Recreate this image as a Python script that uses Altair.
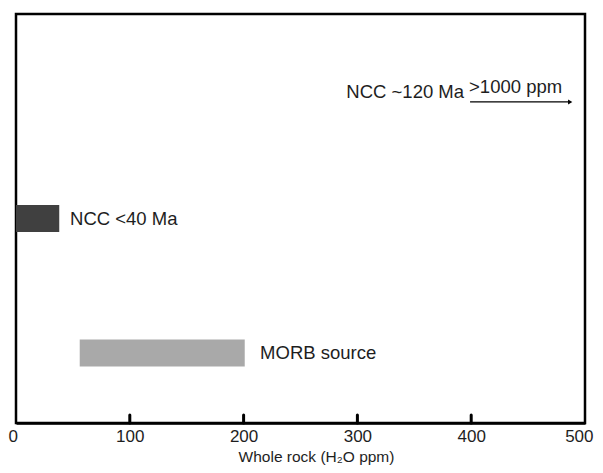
import altair as alt
import pandas as pd

# Data
bar_labels = ["NCC <40 Ma", "MORB source"]
bar_start = [0, 56]
bar_end = [38, 201]
bar_ypos = [5.0, 1.71]
bar_colors = ["#404040", "#a9a9a9"]
label_x = [47.5, 214.5]

arrow_label = "NCC ~120 Ma"
arrow_start = 399
arrow_end = 487
arrow_y = 7.85
arrow_text = ">1000 ppm"
arrow_text_x = 439

tick_values = [0, 100, 200, 300, 400, 500]

half = 0.33
bars = pd.DataFrame({
    "label": bar_labels,
    "x0": bar_start,
    "x1": bar_end,
    "y0": [v - half for v in bar_ypos],
    "y1": [v + half for v in bar_ypos],
    "y": bar_ypos,
    "color": bar_colors,
    "lx": label_x,
})

FONT = "Liberation Sans"
TXT = "#1e1e1e"

xs = alt.Scale(domain=[0, 500], nice=False)
ys = alt.Scale(domain=[0, 10], nice=False)

xaxis = alt.Axis(values=tick_values, ticks=False, grid=False, labelFontSize=17,
                 labelColor=TXT, titleFontSize=15.5, titleColor=TXT,
                 titleFontWeight="normal", labelPadding=5,
                 titleX=300, titleY=38, titleBaseline="alphabetic",
                 domainColor="black", domainWidth=2.5, labelFont=FONT,
                 titleFont=FONT, format="d", labelFlush=True, labelFlushOffset=8)

bar_layer = alt.Chart(bars).mark_bar().encode(
    x=alt.X("x0:Q", scale=xs, axis=xaxis, title="Whole rock (H₂O ppm)"),
    x2="x1:Q",
    y=alt.Y("y0:Q", scale=ys, axis=None),
    y2="y1:Q",
    color=alt.Color("color:N", scale=None),
)

bar_text = alt.Chart(bars).mark_text(align="left", baseline="middle", fontSize=18.5,
                                     font=FONT, color=TXT).encode(
    x=alt.X("lx:Q", scale=xs),
    y=alt.Y("y:Q", scale=ys),
    text="label:N",
)

ticks_df = pd.DataFrame({"t": tick_values[1:-1]})
tick_layer = alt.Chart(ticks_df).mark_rule(color="black", strokeWidth=3, strokeCap="round").encode(
    x=alt.X("t:Q", scale=xs),
    y=alt.value(401),
    y2=alt.value(409),
)

arrow_df = pd.DataFrame({"x0": [arrow_start], "x1": [arrow_end], "y": [arrow_y],
                         "lab": [arrow_label], "txt": [arrow_text],
                         "tx": [arrow_text_x]})
arrow_line = alt.Chart(arrow_df).mark_rule(color="black", strokeWidth=1.3).encode(
    x=alt.X("x0:Q", scale=xs), x2="x1:Q", y=alt.Y("y:Q", scale=ys))
arrow_head = alt.Chart(arrow_df).mark_point(shape="triangle-right", filled=True,
                                            color="black", size=24, opacity=1).encode(
    x=alt.X("x1:Q", scale=xs), y=alt.Y("y:Q", scale=ys))
arrow_lab = alt.Chart(arrow_df).mark_text(align="right", baseline="middle", fontSize=18.5,
                                          font=FONT, color=TXT, dx=-6, dy=-10).encode(
    x=alt.X("x0:Q", scale=xs), y=alt.Y("y:Q", scale=ys), text="lab:N")
arrow_txt = alt.Chart(arrow_df).mark_text(align="center", baseline="middle", fontSize=18.5,
                                          font=FONT, color=TXT, dy=-15).encode(
    x=alt.X("tx:Q", scale=xs), y=alt.Y("y:Q", scale=ys), text="txt:N")

chart = alt.layer(bar_layer, bar_text, tick_layer, arrow_line, arrow_head, arrow_lab, arrow_txt).properties(
    width=569, height=409,
    autosize=alt.AutoSizeParams(type="none"),
    padding={"left": 8, "top": 6, "right": 10, "bottom": 42},
    background="white",
).configure_view(stroke="black", strokeWidth=2.5)

chart.save("out.html", embed_options={"renderer": "svg", "actions": False})
